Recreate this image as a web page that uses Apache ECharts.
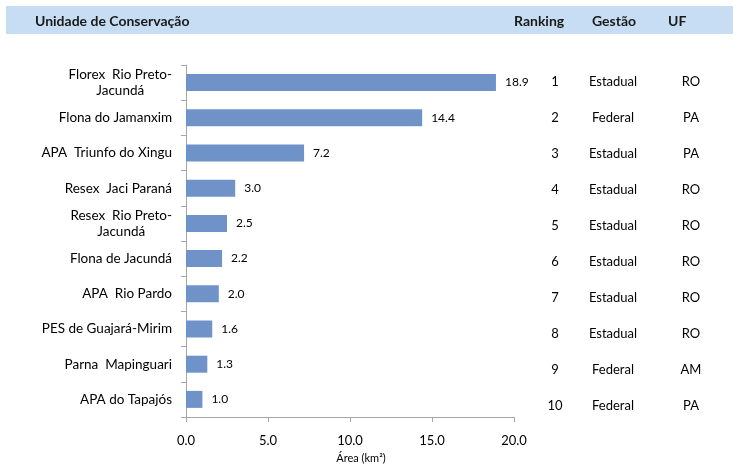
<!DOCTYPE html>
<html>
<head>
<meta charset="utf-8">
<script src="https://cdn.jsdelivr.net/npm/echarts@6/dist/echarts.min.js"></script>
<style>html,body{margin:0;padding:0;background:#fff}#c{width:741px;height:470px}</style>
</head>
<body>
<div id="c"></div>
<script>
const categories = ['Florex  Rio Preto-\nJacundá', 'Flona do Jamanxim', 'APA  Triunfo do Xingu', 'Resex  Jaci Paraná', 'Resex  Rio Preto-\nJacundá', 'Flona de Jacundá', 'APA  Rio Pardo', 'PES de Guajará-Mirim', 'Parna  Mapinguari', 'APA do Tapajós'];
const areaValues = [18.9, 14.4, 7.2, 3.0, 2.5, 2.2, 2.0, 1.6, 1.3, 1.0];
const ranking = ['1', '2', '3', '4', '5', '6', '7', '8', '9', '10'];
const gestao = ['Estadual', 'Federal', 'Estadual', 'Estadual', 'Estadual', 'Estadual', 'Estadual', 'Estadual', 'Federal', 'Federal'];
const uf = ['RO', 'PA', 'PA', 'RO', 'RO', 'RO', 'RO', 'RO', 'AM', 'PA'];
const headers = ['Unidade de Conservação', 'Ranking', 'Gestão', 'UF'];
const xTicks = [0, 5, 10, 15, 20];
const axisTitle = 'Área (km²)';

const FONT = 'Lato';
const chart = echarts.init(document.getElementById('c'), null, {renderer: 'canvas'});

function catLabel(v) {
  return v.split('\n').map(s => '{c|' + s + '}').join('\n');
}

const tableCols = [
  {data: ranking, left: 555, pad: [0, 0, 0, 0]},
  {data: gestao, left: 613, pad: [0, 0, 0, 0]},
  {data: uf, left: 691, pad: [5, 0, 0, 0]}
];

const grids = [{left: 186, right: 227, top: 65, bottom: 53, containLabel: false}];
const xAxes = [{
  type: 'value', min: xTicks[0], max: xTicks[xTicks.length - 1], interval: 5, gridIndex: 0,
  axisLine: {show: true, lineStyle: {color: '#a6a6a6'}},
  axisTick: {show: true, length: 5, lineStyle: {color: '#a6a6a6'}},
  splitLine: {show: false},
  axisLabel: {color: '#000', fontFamily: FONT, fontSize: 13, margin: 17, formatter: v => v.toFixed(1)},
  name: axisTitle, nameLocation: 'middle', nameGap: 36,
  nameTextStyle: {color: '#000', fontFamily: FONT, fontSize: 11, padding: [0, 0, 0, 22]}
}];
const yAxes = [{
  type: 'category', data: categories, inverse: true, gridIndex: 0,
  axisLine: {show: true, lineStyle: {color: '#a6a6a6'}},
  axisTick: {show: true, length: 5, lineStyle: {color: '#a6a6a6'}},
  axisLabel: {
    color: '#000', fontFamily: FONT, fontSize: 13.5, margin: 14, align: 'right', lineHeight: 16,
    formatter: catLabel,
    rich: {c: {align: 'center', color: '#000', fontFamily: FONT, fontSize: 13.5, lineHeight: 16}}
  }
}];
tableCols.forEach((col, i) => {
  grids.push({left: col.left, width: 1, top: 64, height: 360});
  xAxes.push({type: 'value', gridIndex: i + 1, show: false, min: 0, max: 1});
  yAxes.push({
    type: 'category', data: col.data, inverse: true, gridIndex: i + 1,
    axisLine: {show: false}, axisTick: {show: false}, splitLine: {show: false},
    axisLabel: {color: '#000', fontFamily: FONT, fontSize: 13, margin: 0, align: 'center', padding: col.pad}
  });
});

const headStyle = {font: 'bold 14px Lato', fill: '#1a1a1a'};
const headX = [35, 514, 592, 668];
const option = {
  animation: false,
  backgroundColor: '#fff',
  textStyle: {fontFamily: FONT},
  grid: grids,
  xAxis: xAxes,
  yAxis: yAxes,
  graphic: [
    {type: 'rect', left: 6, top: 6, shape: {width: 727, height: 28}, style: {fill: '#c6ddf3'}, z: -1}
  ].concat(headers.map((h, i) => ({
    type: 'text', left: headX[i], top: 14, style: Object.assign({text: h}, headStyle)
  }))),
  series: [{
    type: 'bar', xAxisIndex: 0, yAxisIndex: 0, data: areaValues, barWidth: 17,
    itemStyle: {color: '#6f93c8'},
    label: {show: true, position: 'right', distance: 9, color: '#000', fontFamily: FONT, fontSize: 12,
      formatter: p => p.value.toFixed(1)}
  }]
};
chart.setOption(option);
</script>
</body>
</html>
